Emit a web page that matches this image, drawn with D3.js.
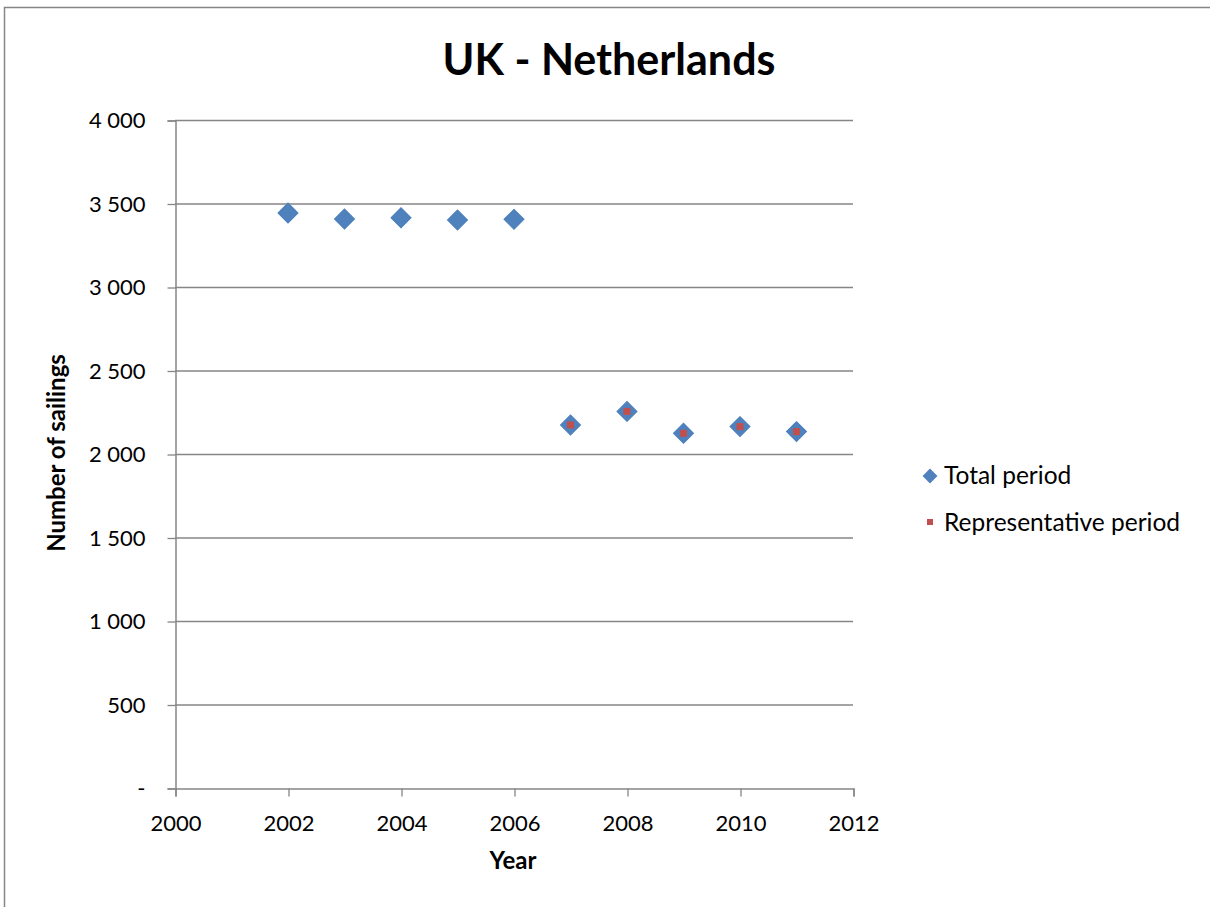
<!DOCTYPE html>
<html>
<head>
<meta charset="utf-8">
<script src="https://cdn.jsdelivr.net/npm/d3@7/dist/d3.min.js"></script>
<style>
  html, body { margin: 0; padding: 0; background: #fff; }
  svg { display: block; font-family: Lato, "Open Sans", sans-serif; }
</style>
</head>
<body>
<svg id="chart" width="1210" height="907"></svg>
<script>
// Sailings per year, UK - Netherlands route
const years = [2002, 2003, 2004, 2005, 2006, 2007, 2008, 2009, 2010, 2011];
const totalPeriod = [3443, 3407, 3415, 3401, 3405, 2174, 2255, 2124, 2164, 2134];
const repYears = [2007, 2008, 2009, 2010, 2011];
const representativePeriod = [2174, 2255, 2124, 2164, 2134];
const xTicks = [2000, 2002, 2004, 2006, 2008, 2010, 2012];
const yTicks = [0, 500, 1000, 1500, 2000, 2500, 3000, 3500, 4000];
const seriesNames = ["Total period", "Representative period"];

const svg = d3.select("#chart");
const gridColor = "#868686";

// Chart frame
svg.append("rect")
  .attr("x", 4.5).attr("y", 7.5)
  .attr("width", 1212).attr("height", 910)
  .attr("fill", "none").attr("stroke", gridColor).attr("stroke-width", 1.5);

const plotLeft = 175, plotRight = 853, plotTop = 120, plotBottom = 788;
const x = d3.scaleLinear().domain([2000, 2012]).range([plotLeft, plotRight]);
const y = d3.scaleLinear().domain([0, 4000]).range([plotBottom, plotTop]);

// Thousands separated by a space, zero shown as a dash
const fmt = v => v === 0 ? "-" : d3.format(",")(v).replace(/,/g, "\u2009\u2009");

// Horizontal gridlines
svg.append("g").selectAll("line").data(yTicks.filter(d => d > 0)).join("line")
  .attr("x1", plotLeft).attr("x2", plotRight)
  .attr("y1", d => y(d) + 0.5).attr("y2", d => y(d) + 0.5)
  .attr("stroke", gridColor).attr("stroke-width", 1.3);

// Y axis
const yAxis = svg.append("g").attr("transform", `translate(${plotLeft + 0.5},0.5)`)
  .call(d3.axisLeft(y).tickValues(yTicks).tickFormat(fmt).tickSize(8).tickPadding(22));
yAxis.select(".domain").attr("stroke", gridColor).attr("stroke-width", 1.5);
yAxis.selectAll(".tick line").attr("stroke", gridColor).attr("stroke-width", 1.3);
yAxis.selectAll(".tick text").attr("font-size", 22).attr("fill", "#000")
  .attr("font-family", "Lato, sans-serif");

// X axis
const xAxis = svg.append("g").attr("transform", `translate(0.5,${plotBottom + 0.5})`)
  .call(d3.axisBottom(x).tickValues(xTicks).tickFormat(d3.format("d")).tickSize(8).tickPadding(19));
xAxis.select(".domain").attr("stroke", gridColor).attr("stroke-width", 1.5);
xAxis.selectAll(".tick line").attr("stroke", gridColor).attr("stroke-width", 1.3);
xAxis.selectAll(".tick text").attr("font-size", 22).attr("fill", "#000")
  .attr("font-family", "Lato, sans-serif");

// Titles
svg.append("text").attr("x", 609).attr("y", 75).attr("text-anchor", "middle")
  .attr("font-size", 43).attr("font-weight", "bold").text("UK - Netherlands");
svg.append("text").attr("x", 513).attr("y", 869).attr("text-anchor", "middle")
  .attr("font-size", 24).attr("font-weight", "bold").text("Year");
svg.append("text").attr("transform", "translate(65,453) rotate(-90)").attr("text-anchor", "middle")
  .attr("font-size", 24).attr("font-weight", "bold").text("Number of sailings");

const diamond = d3.symbol().type(d3.symbolSquare).size(200);
const blue = "#4f81bd", red = "#c0504d";

// Total period markers (diamonds)
svg.append("g").selectAll("path").data(years.map((yr, i) => [yr, totalPeriod[i]])).join("path")
  .attr("d", diamond)
  .attr("transform", d => `translate(${x(d[0])},${y(d[1])}) rotate(45)`)
  .attr("fill", blue).attr("stroke", "#4a7ebb").attr("stroke-width", 1);

// Representative period markers (small squares)
svg.append("g").selectAll("rect").data(repYears.map((yr, i) => [yr, representativePeriod[i]])).join("rect")
  .attr("x", d => x(d[0]) - 3.5).attr("y", d => y(d[1]) - 3.5)
  .attr("width", 7).attr("height", 7).attr("fill", red);

// Legend
const legend = svg.append("g");
legend.append("path").attr("d", d3.symbol().type(d3.symbolSquare).size(110))
  .attr("transform", "translate(930,476) rotate(45)").attr("fill", blue);
legend.append("text").attr("x", 944).attr("y", 484).attr("font-size", 24.5).text(seriesNames[0]);
legend.append("rect").attr("x", 927).attr("y", 519).attr("width", 6).attr("height", 6).attr("fill", red);
legend.append("text").attr("x", 944).attr("y", 531).attr("font-size", 24.5).text(seriesNames[1]);
</script>
</body>
</html>
